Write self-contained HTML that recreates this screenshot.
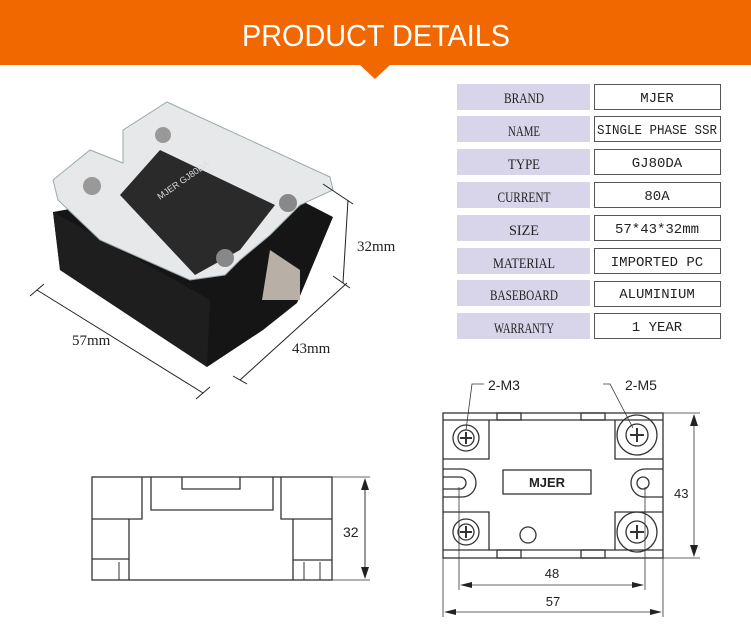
<!DOCTYPE html>
<html><head><meta charset="utf-8"><style>
body{margin:0;background:#fff;width:751px;height:624px;overflow:hidden}
svg{display:block}
.l{font-family:"Liberation Serif",serif;font-size:15px;fill:#222}
.v{font-family:"Liberation Mono",monospace;font-size:14px;fill:#222}
.s{font-family:"Liberation Sans",sans-serif;fill:#222}
</style></head><body>
<svg width="751" height="624" viewBox="0 0 751 624">
<rect x="0" y="0" width="751" height="65" fill="#F26800"/>
<polygon points="360,65 390,65 375,79" fill="#F26800"/>
<text x="242" y="46" font-family="Liberation Sans,sans-serif" font-size="31" fill="#fff" textLength="268" lengthAdjust="spacingAndGlyphs">PRODUCT  DETAILS</text>

<g>
<rect x="457" y="84" width="133" height="26" fill="#D8D5EA"/><rect x="594.5" y="84.5" width="126" height="25" fill="#fff" stroke="#555"/>
<text x="524" y="103" text-anchor="middle" class="l" textLength="40" lengthAdjust="spacingAndGlyphs">BRAND</text><text x="657" y="102" text-anchor="middle" class="v">MJER</text>
<rect x="457" y="116" width="133" height="26" fill="#D8D5EA"/><rect x="594.5" y="116.5" width="126" height="25" fill="#fff" stroke="#555"/>
<text x="524" y="136" text-anchor="middle" class="l" textLength="32" lengthAdjust="spacingAndGlyphs">NAME</text><text x="657" y="134" text-anchor="middle" class="v" textLength="120" lengthAdjust="spacingAndGlyphs">SINGLE PHASE SSR</text>
<rect x="457" y="149" width="133" height="26" fill="#D8D5EA"/><rect x="594.5" y="149.5" width="126" height="25" fill="#fff" stroke="#555"/>
<text x="524" y="169" text-anchor="middle" class="l" textLength="32" lengthAdjust="spacingAndGlyphs">TYPE</text><text x="657" y="167" text-anchor="middle" class="v">GJ80DA</text>
<rect x="457" y="182" width="133" height="26" fill="#D8D5EA"/><rect x="594.5" y="182.5" width="126" height="25" fill="#fff" stroke="#555"/>
<text x="524" y="202" text-anchor="middle" class="l" textLength="53" lengthAdjust="spacingAndGlyphs">CURRENT</text><text x="657" y="200" text-anchor="middle" class="v">80A</text>
<rect x="457" y="215" width="133" height="26" fill="#D8D5EA"/><rect x="594.5" y="215.5" width="126" height="25" fill="#fff" stroke="#555"/>
<text x="524" y="235" text-anchor="middle" class="l" textLength="30" lengthAdjust="spacingAndGlyphs">SIZE</text><text x="657" y="233" text-anchor="middle" class="v">57*43*32mm</text>
<rect x="457" y="248" width="133" height="26" fill="#D8D5EA"/><rect x="594.5" y="248.5" width="126" height="25" fill="#fff" stroke="#555"/>
<text x="524" y="268" text-anchor="middle" class="l" textLength="62" lengthAdjust="spacingAndGlyphs">MATERIAL</text><text x="657" y="266" text-anchor="middle" class="v">IMPORTED PC</text>
<rect x="457" y="280" width="133" height="26" fill="#D8D5EA"/><rect x="594.5" y="281.5" width="126" height="25" fill="#fff" stroke="#555"/>
<text x="524" y="300" text-anchor="middle" class="l" textLength="68" lengthAdjust="spacingAndGlyphs">BASEBOARD</text><text x="657" y="298" text-anchor="middle" class="v">ALUMINIUM</text>
<rect x="457" y="313" width="133" height="26" fill="#D8D5EA"/><rect x="594.5" y="313.5" width="126" height="25" fill="#fff" stroke="#555"/>
<text x="524" y="333" text-anchor="middle" class="l" textLength="60" lengthAdjust="spacingAndGlyphs">WARRANTY</text><text x="657" y="331" text-anchor="middle" class="v">1 YEAR</text>
</g>

<!-- product photo -->
<polygon points="53,212 60,270 207,367 263,330 297,303 333,217 300,200 210,240 120,200" fill="#151515"/>
<polygon points="53,212 60,270 207,367 210,300" fill="#1e1e1e"/>
<polygon points="262,300 300,300 300,270 270,250" fill="#b8b0a6"/>
<polygon points="53,180 90,150 123,163 123,130 167,102 330,177 333,190 300,205 270,235 240,260 225,275 190,280 100,240 58,200" fill="#e6e8ea" stroke="#9aa" stroke-width="1"/>
<polygon points="120,195 160,150 275,205 240,250 195,275" fill="#2a2a2a"/>
<circle cx="92" cy="186" r="9" fill="#999"/><circle cx="163" cy="135" r="8" fill="#999"/>
<circle cx="288" cy="203" r="9" fill="#888"/><circle cx="225" cy="258" r="9" fill="#888"/>
<text x="160" y="200" font-family="Liberation Sans,sans-serif" font-size="9" fill="#ddd" transform="rotate(-35 160 200)">MJER  GJ80DA</text>
<g stroke="#222" stroke-width="1" fill="none">
<line x1="37" y1="290" x2="203" y2="393"/><line x1="30" y1="296" x2="44" y2="284"/><line x1="196" y1="399" x2="210" y2="387"/>
<line x1="240" y1="380" x2="347" y2="283"/><line x1="233" y1="376" x2="247" y2="384"/>
<line x1="348" y1="200" x2="343" y2="283"/><line x1="323" y1="184" x2="353" y2="204"/><line x1="333" y1="276" x2="350" y2="288"/>
</g>
<text x="72" y="345" class="l" font-size="17">57mm</text>
<text x="292" y="353" class="l" font-size="17">43mm</text>
<text x="357" y="251" class="l" font-size="17">32mm</text>

<!-- side view -->
<g stroke="#333" stroke-width="1.3" fill="none">
<rect x="92" y="477" width="240" height="103"/>
<polyline points="92,519 142,519 142,477"/>
<polyline points="151,477 151,510 273,510 273,477"/>
<polyline points="182,477 182,489 240,489 240,477"/>
<polyline points="281,477 281,519 332,519"/>
<line x1="129" y1="519" x2="129" y2="580"/>
<line x1="293" y1="519" x2="293" y2="580"/>
<line x1="92" y1="559" x2="129" y2="559"/><line x1="293" y1="560" x2="332" y2="560"/>
<line x1="119" y1="562" x2="119" y2="580" stroke-width="1"/><line x1="304" y1="562" x2="304" y2="580" stroke-width="1"/><line x1="320" y1="562" x2="320" y2="580" stroke-width="1"/>
<line x1="332" y1="477" x2="370" y2="477" stroke-width=".8"/><line x1="332" y1="580" x2="370" y2="580" stroke-width=".8"/>
<line x1="365" y1="480" x2="365" y2="577" stroke-width="1"/>
</g>
<polygon points="365,478 361,490 369,490" fill="#222"/><polygon points="365,579 361,567 369,567" fill="#222"/>
<text x="343" y="537" class="s" font-size="14">32</text>

<!-- top view -->
<g stroke="#333" stroke-width="1.3" fill="none">
<rect x="443" y="413" width="220" height="145"/>
<line x1="443" y1="420" x2="663" y2="420"/><line x1="443" y1="550" x2="663" y2="550"/>
<rect x="497" y="413" width="24" height="7"/><rect x="581" y="413" width="24" height="7"/>
<rect x="497" y="550" width="24" height="8"/><rect x="581" y="550" width="24" height="8"/>
<polyline points="443,459 489,459 489,420"/><polyline points="615,420 615,459 663,459"/>
<polyline points="443,512 489,512 489,550"/><polyline points="615,550 615,512 663,512"/>
<rect x="503" y="470" width="88" height="24"/>
<path d="M443,469 H462 A14,14 0 0 1 462,497 H443"/><path d="M443,477 H460 A6,6 0 0 1 460,489 H443"/>
<path d="M663,469 H645 A14,14 0 0 0 645,497 H663"/><circle cx="643" cy="483" r="6"/>
<circle cx="528" cy="535" r="8"/>
<circle cx="466" cy="438" r="13"/><circle cx="466" cy="438" r="8"/>
<circle cx="466" cy="532" r="13"/><circle cx="466" cy="532" r="8"/>
<circle cx="637" cy="435" r="20"/><circle cx="637" cy="435" r="11"/>
<circle cx="637" cy="532" r="20"/><circle cx="637" cy="532" r="11"/>
<path d="M460,438 H472 M466,432 V444 M460,532 H472 M466,526 V538 M630,435 H644 M637,428 V442 M630,532 H644 M637,525 V539" stroke-width="2"/>
<g stroke-width=".8">
<polyline points="484,384 472,384 466,430"/>
<polyline points="603,384 610,384 633,428"/>
<line x1="663" y1="413" x2="700" y2="413"/><line x1="663" y1="558" x2="700" y2="558"/>
<line x1="694" y1="416" x2="694" y2="555"/>
<line x1="459" y1="487" x2="459" y2="590"/><line x1="645" y1="487" x2="645" y2="590"/>
<line x1="443" y1="558" x2="443" y2="617"/><line x1="663" y1="558" x2="663" y2="617"/>
<line x1="462" y1="585" x2="642" y2="585"/><line x1="446" y1="612" x2="660" y2="612"/>
</g>
</g>
<polygon points="694,414 690,426 698,426" fill="#222"/><polygon points="694,557 690,545 698,545" fill="#222"/>
<polygon points="460,585 472,582 472,588" fill="#222"/><polygon points="644,585 632,582 632,588" fill="#222"/>
<polygon points="444,612 456,609 456,615" fill="#222"/><polygon points="662,612 650,609 650,615" fill="#222"/>
<text x="547" y="487" class="s" font-size="13" font-weight="bold" text-anchor="middle" fill="#444">MJER</text>
<text x="488" y="390" class="s" font-size="14">2-M3</text>
<text x="625" y="390" class="s" font-size="14">2-M5</text>
<text x="674" y="498" class="s" font-size="13">43</text>
<text x="552" y="578" class="s" font-size="13" text-anchor="middle">48</text>
<text x="553" y="606" class="s" font-size="13" text-anchor="middle">57</text>
</svg>
</body></html>
